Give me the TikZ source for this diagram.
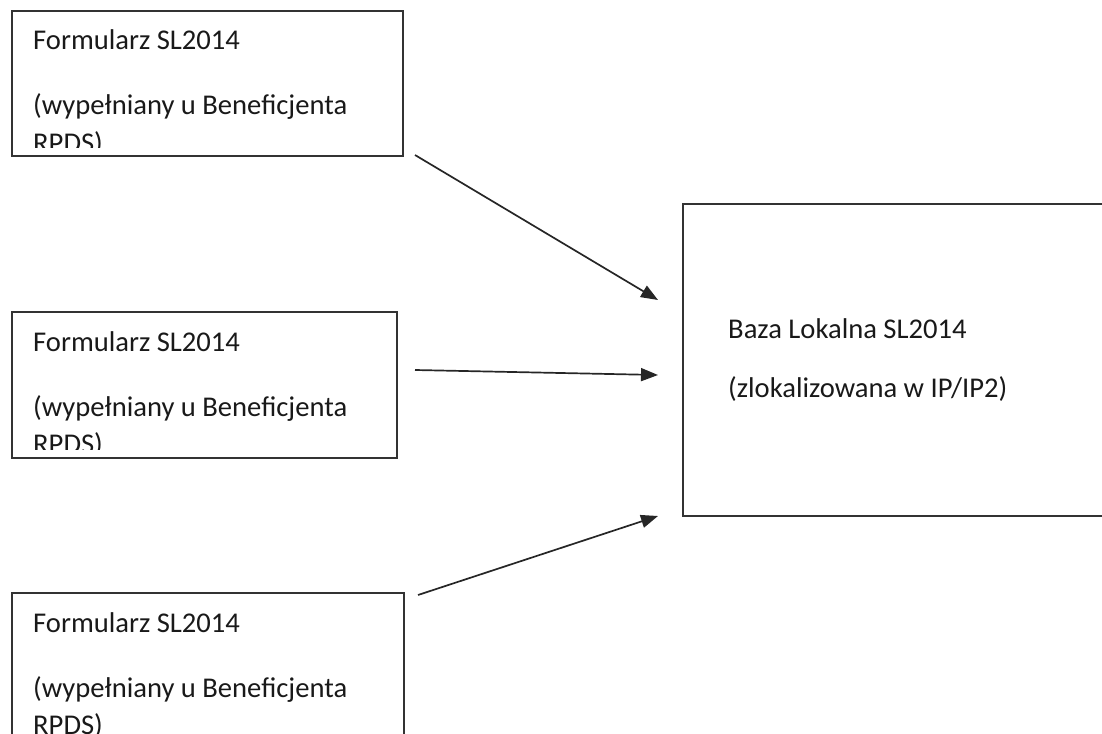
\documentclass[tikz,border=0pt]{standalone}
\usepackage{fontspec}
\setmainfont{Carlito}
\usetikzlibrary{arrows.meta}
\tikzset{
  box/.style={draw=black!80, line width=2pt, anchor=north west, inner sep=0pt, outer sep=0pt},
  txt/.style={anchor=base west, inner sep=0pt, text=black!90, font=\fontsize{28.6}{34}\selectfont},
  link/.style={-{Triangle[length=17pt,width=13pt]}, line width=1.7pt, draw=black!85},
}
\begin{document}
\begin{tikzpicture}[x=1pt,y=-1pt]
  \useasboundingbox (0,0) rectangle (1102,733);
  % the three forms and the local base
  \node[box, minimum width=391pt, minimum height=145pt] (form1) at (12,11) {};
  \node[box, minimum width=385pt, minimum height=146pt] (form2) at (12,312) {};
  \node[box, minimum width=392pt, minimum height=170pt] (form3) at (12,593) {};
  \node[box, minimum width=480pt, minimum height=312pt] (base) at (683,204) {};
  % texts, cut off at the bottom as in the original
  \begin{scope}
    \clip (form1.north west) rectangle ([yshift=9pt]form1.south east);
    \node[txt] (form1a) at (33,50) {Formularz SL2014};
    \node[txt] (form1b) at (33,115) {(wypełniany u Beneficjenta};
    \node[txt] (form1c) at (33,152) {RPDS)};
  \end{scope}
  \begin{scope}
    \clip (form2.north west) rectangle ([yshift=9pt]form2.south east);
    \node[txt] (form2a) at (33,351) {Formularz SL2014};
    \node[txt] (form2b) at (33,416) {(wypełniany u Beneficjenta};
    \node[txt] (form2c) at (33,453) {RPDS)};
  \end{scope}
  \node[txt] (form3a) at (33,632) {Formularz SL2014};
  \node[txt] (form3b) at (33,697) {(wypełniany u Beneficjenta};
  \node[txt] (form3c) at (33,734) {RPDS)};
  \node[txt] (basea) at (728,338) {Baza Lokalna SL2014};
  \node[txt] (baseb) at (728,397) {(zlokalizowana w IP/IP2)};
  % arrows
  \coordinate (s1) at (415,155);
  \coordinate (t1) at (658,300);
  \coordinate (s2) at (415,370);
  \coordinate (t2) at (658,375);
  \coordinate (s3) at (418,595);
  \coordinate (t3) at (658,516);
  \draw[link] (s1) -- (t1);
  \draw[link] (s2) -- (t2);
  \draw[link] (s3) -- (t3);
\end{tikzpicture}
\end{document}
